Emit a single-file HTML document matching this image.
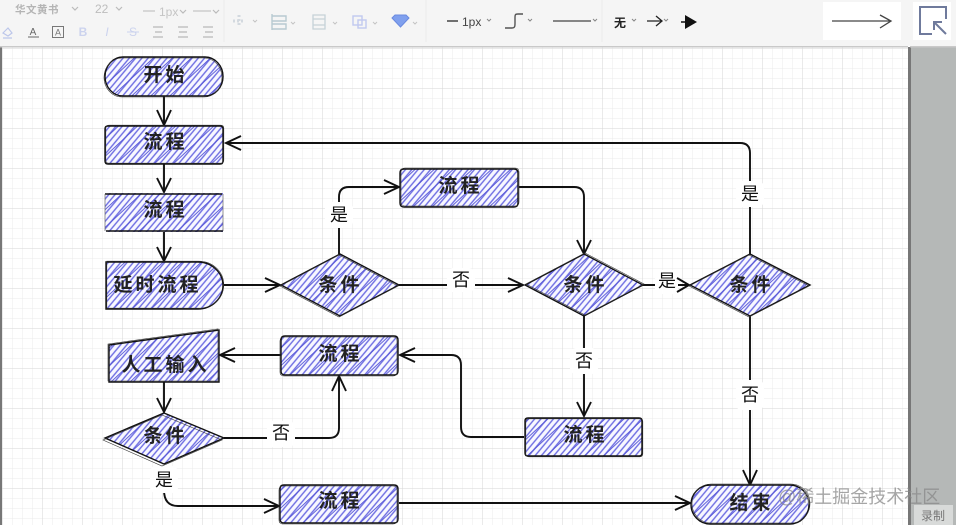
<!DOCTYPE html>
<html lang="zh"><head><meta charset="utf-8"><style>
html,body{margin:0;padding:0;width:956px;height:525px;overflow:hidden;background:#fff}
svg{display:block;filter:blur(.35px)}
text{font-family:"Liberation Sans","Noto Sans CJK SC",sans-serif}
.n{font-size:19px;font-weight:700;fill:#222;text-anchor:middle;letter-spacing:3px}
.l{font-size:18px;fill:#111;text-anchor:middle}
.s{fill:url(#h1);stroke:none}
.s2{fill:url(#h2);stroke:none}
.o{fill:none;stroke:#111;stroke-width:1.4}
.o2{fill:none;stroke:#333;stroke-width:.6}
.c{fill:none;stroke:#111;stroke-width:1.9}
.i{fill:none;stroke:#bbb;stroke-width:1.2}
</style></head><body>
<svg width="956" height="525" viewBox="0 0 956 525" xmlns="http://www.w3.org/2000/svg">
<defs>
<pattern id="g1" width="10" height="10" x="3" y="8" patternUnits="userSpaceOnUse"><path d="M10 0V10M0 0H10" stroke="#ebebeb" fill="none"/></pattern>
<pattern id="g2" width="40" height="40" x="3" y="8" patternUnits="userSpaceOnUse"><path d="M40 0V40M0 0H40" stroke="#d6d6d6" fill="none"/></pattern>
<pattern id="h1" width="4.800" height="12" patternUnits="userSpaceOnUse" patternTransform="rotate(40)"><rect width="4.800" height="12" fill="#f8f8ff"/><path d="M2 0V12" stroke="#6c6ce2" stroke-width="1.400"/></pattern>
<pattern id="h2" width="13" height="14" patternUnits="userSpaceOnUse" patternTransform="rotate(47)"><path d="M4 0V14" stroke="#5252d6" stroke-width=".9"/></pattern>
<path id="n1" d="M123 57H205A18 19.500 0 0 1 205 96H123A18 19.500 0 0 1 123 57Z"/>
<path id="n2" d="M108 126H220Q223 126 223 129V161Q223 164 220 164H108Q105 164 105 161V129Q105 126 108 126Z"/>
<path id="n3" d="M106 262H198A25 23.500 0 0 1 198 309H106Z"/>
<path id="n4" d="M340 254L399 285L340 316L281 285Z"/>
<path id="n5" d="M404 169H514Q518 169 518 173V203Q518 207 514 207H404Q400 207 400 203V173Q400 169 404 169Z"/>
<path id="n6" d="M584 254L643 285L584 316L525 285Z"/>
<path id="n7" d="M750 254L810 285L750 316L690 285Z"/>
<path id="n8" d="M109 345L219 330V382H109Z"/>
<path id="n9" d="M285 336H394Q398 336 398 340V371Q398 375 394 375H285Q281 375 281 371V340Q281 336 285 336Z"/>
<path id="n10" d="M164 413L224 438L164 464L105 438Z"/>
<path id="n11" d="M528 418H639Q642 418 642 421V453Q642 456 639 456H528Q525 456 525 453V421Q525 418 528 418Z"/>
<path id="n12" d="M284 485H394Q398 485 398 489V519Q398 523 394 523H284Q280 523 280 519V489Q280 485 284 485Z"/>
<path id="n13" d="M710 485H790A19 19.500 0 0 1 790 524H710A19 19.500 0 0 1 710 485Z"/>
</defs>

<rect x="0" y="47" width="908" height="478" fill="#fff"/>
<rect x="2" y="47" width="906" height="478" fill="url(#g1)"/>
<rect x="2" y="47" width="906" height="478" fill="url(#g2)"/>
<rect x="0" y="47" width="2" height="478" fill="#777"/>
<rect x="908" y="47" width="3" height="478" fill="#777"/>
<rect x="911" y="47" width="45" height="478" fill="#b5b8b7"/>

<!-- toolbar -->
<rect x="0" y="0" width="956" height="46" fill="#f5f5f5"/>
<rect x="0" y="46" width="908" height="1.5" fill="#c9c9c9"/>
<rect x="910" y="46" width="46" height="1.5" fill="#c9c9c9"/>
<path d="M224 0V42M426 0V42M602 0V42" stroke="#ececec"/>
<text x="15" y="13" font-size="10.500" fill="#b4b4b4" font-weight="700" letter-spacing=".5">华文黄书</text>
<path class="i" d="M72 7l3 3 3-3M116 7l3 3 3-3M180 10l3 3 3-3M213 10l3 3 3-3"/>
<text x="95" y="13" font-size="12" fill="#bdbdbd">22</text>
<path d="M143 11h12M193 11h18" stroke="#c5c5c5" stroke-width="1.200"/>
<text x="159" y="16" font-size="12" fill="#c5c5c5">1px</text>
<path d="M3 33l5-5 4 5-4 3zM3 38h9" fill="none" stroke="#bcc6ea" stroke-width="1.200"/>
<text x="33" y="35" font-size="10" fill="#666" text-anchor="middle">A</text><path d="M28 37h11" stroke="#666"/>
<rect x="52.500" y="26.500" width="11" height="11" fill="none" stroke="#777"/><text x="58" y="35.500" font-size="9" fill="#777" text-anchor="middle">A</text>
<text x="83" y="36" font-size="12" font-weight="700" fill="#ccd3ee" text-anchor="middle">B</text>
<text x="107" y="36" font-size="12" font-style="italic" fill="#ccd3ee" text-anchor="middle">I</text>
<text x="133" y="36" font-size="12" fill="#ccd3ee" text-anchor="middle">S</text><path d="M127 32h12" stroke="#ccd3ee"/>
<path d="M153 27h10M155 32h7M153 37h10M178 27h10M179 32h8M178 37h10M203 27h10M205 32h8M203 37h10" stroke="#a9a9a9" fill="none"/>
<path d="M239 15v12M233 21h12" stroke="#d3d9df" stroke-width="3" stroke-dasharray="2 2"/>
<path d="M253 20l2 2 2-2M291 22l2 2 2-2M333 22l2 2 2-2M373 22l2 2 2-2M413 22l2 2 2-2" fill="none" stroke="#c4c4c4"/>
<path d="M272 14v16M272 16h14v5h-14M272 24h14v5h-14" fill="none" stroke="#b8cad2" stroke-width="1.400"/>
<path d="M313 15v14h12v-14zM313 19h12M313 25h12" fill="none" stroke="#c6d2d8" stroke-width="1.300"/>
<rect x="353" y="16" width="9" height="9" fill="none" stroke="#c1c9ef" stroke-width="1.400"/><rect x="358" y="20" width="8" height="8" fill="none" stroke="#c1c9ef" stroke-width="1.400"/>
<path d="M392 18l3-3h11l3 3-8.500 9z" fill="#80a0ee" stroke="#6a8ae0"/>
<path d="M447 21h11" stroke="#444" stroke-width="1.500"/><text x="462" y="26" font-size="12" fill="#444">1px</text>
<path d="M487 19l2 2 2-2M528 19l2 2 2-2M593 19l2 2 2-2M632 19l2 2 2-2M664 19l2 2 2-2" fill="none" stroke="#888"/>
<path d="M505 28h7c3 0 3-2 3-5v-5c0-3 0-4 3-4h5" fill="none" stroke="#555" stroke-width="1.400"/>
<path d="M553 21h38" stroke="#444" stroke-width="1.300"/>
<text x="614" y="27" font-size="12" font-weight="700" fill="#222">无</text>
<path d="M647 21h14M656 16l6 5-6 5" fill="none" stroke="#222" stroke-width="1.300"/>
<path d="M681 22h6" stroke="#111" stroke-width="1.500"/><path d="M685 15l12 7-12 7z" fill="#111"/>
<rect x="823" y="2" width="78" height="38" fill="#fff"/>
<path d="M832 21h58M880 15l11 6-11 7" fill="none" stroke="#444" stroke-width="1.300"/>
<rect x="913" y="2" width="38" height="38" fill="#fff"/>
<path d="M932 34h-12v-27h26v12" fill="none" stroke="#6f7a9c" stroke-width="2"/>
<path d="M946 34l-11-11M934 30v-8h8" fill="none" stroke="#6f7a9c" stroke-width="2"/>

<!-- connectors -->
<path class="c" d="M164 96V125M164 164V192M164 232V261M224 285H280M399 285H522M339 254V197Q339 187 349 187H399M519 187H574Q584 187 584 197V254M643 285H688M584 316V416M750 254V153Q750 143 740 143H226M750 316V484M281 355H220M164 382V412M224 438H329Q339 438 339 428V376M524 437H471Q461 437 461 427V365Q461 355 451 355H400M164 490Q164 506 178 506H279M399 503H689"/>

<!-- labels bg -->
<g fill="#fff">
<rect x="267" y="421" width="28" height="26" rx="6"/><rect x="150" y="466" width="28" height="27" rx="6"/>
<rect x="325" y="202" width="28" height="26" rx="6"/><rect x="447" y="268" width="28" height="24" rx="6"/>
<rect x="655" y="270" width="23" height="24" rx="6"/><rect x="570" y="348" width="28" height="26" rx="6"/>
<rect x="736" y="181" width="28" height="26" rx="6"/><rect x="736" y="380" width="28" height="30" rx="6"/>
</g>
<text class="l" x="281" y="439">否</text><text class="l" x="164" y="486">是</text>
<text class="l" x="339" y="221">是</text><text class="l" x="461" y="286">否</text>
<text class="l" x="667" y="287">是</text><text class="l" x="584" y="367">否</text>
<text class="l" x="750" y="200">是</text><text class="l" x="750" y="401">否</text>

<!-- arrowheads -->
<path class="c" d="M157 110L164 125L171 110M157 178L164 192L171 178M157 247L164 261L171 247M265 278L280 285L265 292M384 180L399 187L384 194M508 278L523 285L508 292M577 240L584 254L591 240M677 278L689 285L677 292M577 402L584 416L591 402M743 470L750 485L757 470M241 136L226 143L241 150M415 348L400 355L415 362M235 348L220 355L235 362M157 398L164 412L171 398M332 391L339 376L346 391M264 499L279 506L264 513M675 496L690 503L675 510"/>

<!-- nodes -->
<use href="#n1" class="s"/><use href="#n1" class="s2"/><use href="#n1" class="o"/><use href="#n1" class="o2" transform="translate(-1 1)"/>
<use href="#n2" class="s"/><use href="#n2" class="s2"/><use href="#n2" class="o"/><use href="#n2" class="o2" transform="translate(.8 -.8)"/>
<rect class="s" x="105" y="193" width="118" height="39"/><rect class="s2" x="105" y="193" width="118" height="39"/><path class="o" d="M105 194H222M223 231H106"/><path d="M105 194V231M223 194V231" stroke="#666" stroke-width=".7"/>
<use href="#n3" class="s"/><use href="#n3" class="s2"/><use href="#n3" class="o"/><use href="#n3" class="o2" transform="translate(.8 -.8)"/>
<use href="#n4" class="s"/><use href="#n4" class="s2"/><use href="#n4" class="o"/><use href="#n4" class="o2" transform="translate(-1 1)"/>
<use href="#n5" class="s"/><use href="#n5" class="s2"/><use href="#n5" class="o"/><use href="#n5" class="o2" transform="translate(1 -1)"/>
<use href="#n6" class="s"/><use href="#n6" class="s2"/><use href="#n6" class="o"/><use href="#n6" class="o2" transform="translate(1 -1)"/>
<use href="#n7" class="s"/><use href="#n7" class="s2"/><use href="#n7" class="o"/><use href="#n7" class="o2" transform="translate(-1 1)"/>
<use href="#n8" class="s"/><use href="#n8" class="s2"/><use href="#n8" class="o"/><use href="#n8" class="o2" transform="translate(-1 -1)"/>
<use href="#n9" class="s"/><use href="#n9" class="s2"/><use href="#n9" class="o"/><use href="#n9" class="o2" transform="translate(-1 1)"/>
<use href="#n10" class="s"/><use href="#n10" class="s2"/><use href="#n10" class="o"/><use href="#n10" class="o2" transform="translate(-2 2)"/>
<use href="#n11" class="s"/><use href="#n11" class="s2"/><use href="#n11" class="o"/><use href="#n11" class="o2" transform="translate(.8 .8)"/>
<use href="#n12" class="s"/><use href="#n12" class="s2"/><use href="#n12" class="o"/><use href="#n12" class="o2" transform="translate(-1 1)"/>
<use href="#n13" class="s"/><use href="#n13" class="s2"/><use href="#n13" class="o"/><use href="#n13" class="o2" transform="translate(1 -1)"/>

<!-- node text -->
<text class="n" x="165.500" y="81">开始</text>
<text class="n" x="165.500" y="148">流程</text>
<text class="n" x="165.500" y="216">流程</text>
<text class="n" x="157.500" y="291">延时流程</text>
<text class="n" x="340.500" y="291">条件</text>
<text class="n" x="460.500" y="192">流程</text>
<text class="n" x="585.500" y="291">条件</text>
<text class="n" x="751.500" y="291">条件</text>
<text class="n" x="165.500" y="371">人工输入</text>
<text class="n" x="340.500" y="360">流程</text>
<text class="n" x="165.500" y="442">条件</text>
<text class="n" x="585.500" y="441">流程</text>
<text class="n" x="340.500" y="507">流程</text>
<text class="n" x="751.500" y="509">结束</text>

<!-- watermark -->
<text x="778" y="503" font-size="18" fill="#888" fill-opacity=".75">@稀土掘金技术社区</text>
<rect x="914" y="505" width="39" height="20" fill="#d8dad9"/>
<text x="933" y="520" font-size="12" fill="#777" text-anchor="middle">录制</text>
</svg>
</body></html>
